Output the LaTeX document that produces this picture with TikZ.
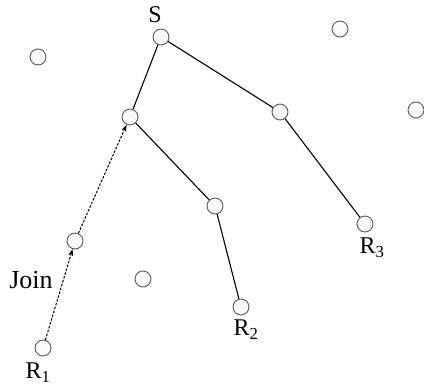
\documentclass[tikz,border=0pt]{standalone}
\usepackage{fontspec}
\setmainfont{Liberation Serif}
\usepackage{tikz}
\usetikzlibrary{arrows.meta, positioning}

\begin{document}
\begin{tikzpicture}[
  x=1pt, y=-1pt,
  router/.style={draw=black!65, fill=black!2, circle, minimum size=16pt, inner sep=0pt, line width=0.9pt},
  tree/.style={draw, line width=1.1pt},
  joinpath/.style={draw, line width=1pt, dash pattern=on 2.5pt off 1.5pt, -{Stealth[length=7pt, width=5pt]}},
  lbl/.style={font=\fontsize{24}{27}\selectfont, inner sep=0pt}
]
  \useasboundingbox (0,0) rectangle (424,390);
  % routers in the tree
  \node[router] (s)  at (161, 37) {};
  \node[router] (a)  at (130,117) {};
  \node[router] (b)  at (280,112) {};
  \node[router] (c)  at (215,206) {};
  \node[router] (r3) at (365,224) {};
  \node[router] (r2) at (241,307) {};
  \node[router] (m)  at (75,241) {};
  \node[router] (r1) at (43,348) {};
  % other routers
  \node[router] (o1) at (38,57) {};
  \node[router] (o2) at (340,29) {};
  \node[router] (o3) at (416,110) {};
  \node[router] (o4) at (143,279) {};

  % labels
  \node[lbl] (ls)  at (155,15)  {S};
  \node[lbl] (lr1) at (38,373)  {R\textsubscript{1}};
  \node[lbl] (lr2) at (246,330) {R\textsubscript{2}};
  \node[lbl] (lr3) at (372,248) {R\textsubscript{3}};
  \node[lbl, font=\fontsize{26}{29}\selectfont] (ljoin) at (31,280) {Join};

  % shared tree
  \draw[tree] (s) -- (a);
  \draw[tree] (s) -- (b);
  \draw[tree] (a) -- (c);
  \draw[tree] (c) -- (r2);
  \draw[tree] (b) -- (r3);

  % join request
  \draw[joinpath] (r1) -- (m);
  \draw[joinpath] (m) -- (a);
\end{tikzpicture}
\end{document}
